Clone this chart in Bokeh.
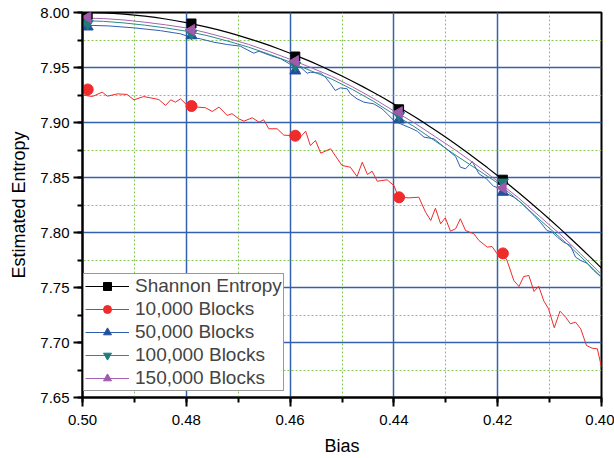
from bokeh.plotting import figure
from bokeh.models import Range1d, SingleIntervalTicker, NumeralTickFormatter, Legend, LegendItem
from bokeh.embed import file_html
from bokeh.resources import INLINE

# ---------------- data ----------------
shannon_x = [0.500, 0.498, 0.496, 0.494, 0.492, 0.490, 0.488, 0.486, 0.484, 0.482,
             0.480, 0.478, 0.476, 0.474, 0.472, 0.470, 0.468, 0.466, 0.464, 0.462,
             0.460, 0.458, 0.456, 0.454, 0.452, 0.450, 0.448, 0.446, 0.444, 0.442,
             0.440, 0.438, 0.436, 0.434, 0.432, 0.430, 0.428, 0.426, 0.424, 0.422,
             0.420, 0.418, 0.416, 0.414, 0.412, 0.410, 0.408, 0.406, 0.404, 0.402, 0.400]
shannon_y = [8.0000, 7.9999, 7.9996, 7.9992, 7.9985, 7.9977, 7.9967, 7.9955, 7.9941, 7.9925,
             7.9908, 7.9888, 7.9867, 7.9844, 7.9819, 7.9792, 7.9763, 7.9733, 7.9701, 7.9666,
             7.9630, 7.9592, 7.9553, 7.9511, 7.9467, 7.9422, 7.9375, 7.9326, 7.9275, 7.9222,
             7.9167, 7.9110, 7.9052, 7.8992, 7.8929, 7.8865, 7.8799, 7.8731, 7.8661, 7.8590,
             7.8516, 7.8441, 7.8363, 7.8284, 7.8203, 7.8120, 7.8035, 7.7948, 7.7859, 7.7769, 7.7676]

b10k_x = [0.5000, 0.4981, 0.4962, 0.4952, 0.4933, 0.4914, 0.4901, 0.4882, 0.4853, 0.4840,
          0.4830, 0.4821, 0.4811, 0.4798, 0.4779, 0.4763, 0.4750, 0.4737, 0.4721, 0.4712,
          0.4699, 0.4689, 0.4673, 0.4660, 0.4651, 0.4641, 0.4625, 0.4612, 0.4592, 0.4583,
          0.4570, 0.4561, 0.4551, 0.4541, 0.4522, 0.4500, 0.4484, 0.4471, 0.4461, 0.4451,
          0.4442, 0.4432, 0.4413, 0.4400, 0.4391, 0.4371, 0.4352, 0.4339, 0.4329, 0.4320,
          0.4310, 0.4301, 0.4291, 0.4281, 0.4272, 0.4262, 0.4246, 0.4236, 0.4220, 0.4211,
          0.4201, 0.4190, 0.4182, 0.4169, 0.4159, 0.4150, 0.4140, 0.4130, 0.4121, 0.4111,
          0.4102, 0.4091, 0.4080, 0.4069, 0.4060, 0.4050, 0.4040, 0.4029, 0.4018, 0.4008, 0.4000]
b10k_y = [7.9250, 7.9236, 7.9276, 7.9239, 7.9260, 7.9255, 7.9206, 7.9236, 7.9209, 7.9155,
          7.9206, 7.9185, 7.9215, 7.9155, 7.9140, 7.9134, 7.9100, 7.9140, 7.9064, 7.9080,
          7.9034, 7.9012, 7.9043, 7.9003, 7.9025, 7.8943, 7.8943, 7.8885, 7.8880, 7.8852,
          7.8921, 7.8791, 7.8836, 7.8721, 7.8761, 7.8609, 7.8594, 7.8509, 7.8639, 7.8527,
          7.8557, 7.8466, 7.8479, 7.8427, 7.8321, 7.8315, 7.8321, 7.8185, 7.8109, 7.8221,
          7.8079, 7.8134, 7.8012, 7.8034, 7.8125, 7.8018, 7.7988, 7.7927, 7.7867, 7.7873,
          7.7806, 7.7812, 7.7745, 7.7564, 7.7509, 7.7600, 7.7609, 7.7464, 7.7512, 7.7376,
          7.7306, 7.7134, 7.7285, 7.7230, 7.7170, 7.7185, 7.7124, 7.6973, 7.6948, 7.6943, 7.6776]

b50k_x = [0.5000, 0.4950, 0.4900, 0.4850, 0.4811, 0.4792, 0.4773, 0.4747, 0.4721, 0.4696,
          0.4670, 0.4660, 0.4638, 0.4618, 0.4601, 0.4580, 0.4567, 0.4561, 0.4541, 0.4532,
          0.4522, 0.4513, 0.4503, 0.4490, 0.4484, 0.4471, 0.4458, 0.4439, 0.4423, 0.4413,
          0.4400, 0.4387, 0.4368, 0.4355, 0.4342, 0.4323, 0.4304, 0.4281, 0.4272, 0.4262,
          0.4249, 0.4236, 0.4222, 0.4208, 0.4195, 0.4182, 0.4169, 0.4156, 0.4143, 0.4130,
          0.4118, 0.4105, 0.4095, 0.4085, 0.4073, 0.4060, 0.4050, 0.4040, 0.4028, 0.4015, 0.4002]
b50k_y = [7.9885, 7.9878, 7.9860, 7.9835, 7.9806, 7.9775, 7.9761, 7.9730, 7.9709, 7.9694,
          7.9630, 7.9648, 7.9609, 7.9579, 7.9533, 7.9503, 7.9448, 7.9457, 7.9448, 7.9412,
          7.9352, 7.9291, 7.9315, 7.9306, 7.9261, 7.9215, 7.9185, 7.9170, 7.9125, 7.9079,
          7.9018, 7.8988, 7.8950, 7.8921, 7.8867, 7.8852, 7.8780, 7.8690, 7.8594, 7.8579,
          7.8645, 7.8533, 7.8490, 7.8420, 7.8400, 7.8352, 7.8321, 7.8276, 7.8215, 7.8155,
          7.8094, 7.8018, 7.8003, 7.7958, 7.7912, 7.7882, 7.7776, 7.7745, 7.7721, 7.7655, 7.7600]

b100k_x = [0.500, 0.496, 0.492, 0.488, 0.484, 0.480, 0.476, 0.472, 0.468, 0.464,
           0.460, 0.456, 0.452, 0.448, 0.444, 0.440, 0.436, 0.432, 0.428, 0.424,
           0.420, 0.416, 0.412, 0.408, 0.404, 0.400]
b100k_y = [7.9925, 7.9920, 7.9905, 7.9885, 7.9860, 7.9830, 7.9790, 7.9740, 7.9685, 7.9620,
           7.9550, 7.9470, 7.9395, 7.9300, 7.9195, 7.9075, 7.8960, 7.8830, 7.8700, 7.8575,
           7.8450, 7.8290, 7.8120, 7.7955, 7.7780, 7.7595]

b150k_x = [0.500, 0.496, 0.492, 0.488, 0.484, 0.480, 0.476, 0.472, 0.468, 0.464,
           0.460, 0.456, 0.452, 0.448, 0.444, 0.440, 0.436, 0.432, 0.428, 0.424,
           0.420, 0.416, 0.412, 0.408, 0.404, 0.400]
b150k_y = [7.9950, 7.9945, 7.9932, 7.9912, 7.9888, 7.9860, 7.9815, 7.9765, 7.9710, 7.9645,
           7.9575, 7.9500, 7.9420, 7.9325, 7.9220, 7.9105, 7.8995, 7.8870, 7.8745, 7.8610,
           7.8465, 7.8315, 7.8150, 7.7985, 7.7805, 7.7620]

marker_x = [0.499, 0.479, 0.459, 0.439, 0.419]
shannon_my = [7.998, 7.990, 7.960, 7.912, 7.848]
b10k_my = [7.930, 7.915, 7.888, 7.832, 7.781]
b50k_my = [7.987, 7.979, 7.947, 7.9025, 7.8367]
b100k_my = [7.990, 7.981, 7.952, 7.9064, 7.8457]
b150k_my = [7.9957, 7.9842, 7.9558, 7.9094, 7.8406]

labels = ["Shannon Entropy", "10,000 Blocks", "50,000 Blocks", "100,000 Blocks", "150,000 Blocks"]
x_ticks_interval = 0.02
y_ticks_interval = 0.05

# ---------------- figure ----------------
FONT = "Liberation Sans"
p = figure(frame_width=519, frame_height=385, output_backend="svg", toolbar_location=None,
           x_range=Range1d(0.50, 0.40), y_range=Range1d(7.65, 8.00),
           min_border_left=82, min_border_right=13, min_border_top=12, min_border_bottom=58,
           background_fill_color="white", border_fill_color="white")

p.outline_line_color = "black"
p.outline_line_width = 2
p.outline_line_alpha = 1

p.xaxis.ticker = SingleIntervalTicker(interval=x_ticks_interval, num_minor_ticks=2)
p.yaxis.ticker = SingleIntervalTicker(interval=y_ticks_interval, num_minor_ticks=2)
p.axis.formatter = NumeralTickFormatter(format="0.00")

for ax in (p.xaxis, p.yaxis):
    ax.axis_line_width = 2
    ax.axis_line_color = "black"
    ax.major_tick_line_width = 2
    ax.minor_tick_line_width = 2
    ax.major_tick_out = 9
    ax.major_tick_in = 0
    ax.minor_tick_out = 5
    ax.minor_tick_in = 0
    ax.major_label_text_font = FONT
    ax.major_label_text_font_size = "15px"
    ax.major_label_text_color = "black"
    ax.axis_label_text_font = FONT
    ax.axis_label_text_font_size = "18px"
    ax.axis_label_text_font_style = "normal"
    ax.axis_label_text_color = "black"

p.xaxis.axis_label = "Bias"
p.yaxis.axis_label = "Estimated Entropy"
p.xaxis.major_label_standoff = 8
p.yaxis.major_label_standoff = 4
p.xaxis.axis_label_standoff = 8
p.yaxis.axis_label_standoff = 8

for g in (p.xgrid, p.ygrid):
    g.grid_line_color = "#3461ad"
    g.grid_line_width = 1.5
    g.minor_grid_line_color = "#86c65a"
    g.minor_grid_line_width = 1
    g.minor_grid_line_dash = "2 2"

RED = "#ef2b2b"
BLUE = "#2f5fb3"
BLUE_M = "#21509f"
TEAL = "#2a8a88"
TEAL_M = "#217b7a"
PURP = "#a662b2"
PURP_M = "#a05aab"

l0 = p.line(shannon_x, shannon_y, line_color="black", line_width=1.2)
l1 = p.line(b10k_x, b10k_y, line_color=RED, line_width=1)
l2 = p.line(b50k_x, b50k_y, line_color=BLUE, line_width=1)
l3 = p.line(b100k_x, b100k_y, line_color=TEAL, line_width=1)
l4 = p.line(b150k_x, b150k_y, line_color=PURP, line_width=1)

m0 = p.scatter(marker_x, shannon_my, marker="square", size=9, fill_color="black", line_color="black")
m1 = p.scatter(marker_x, b10k_my, marker="circle", size=11, fill_color=RED, line_color=RED)
m2 = p.scatter(marker_x, b50k_my, marker="triangle", size=11, fill_color=BLUE_M, line_color=BLUE_M)
m3 = p.scatter(marker_x, b100k_my, marker="inverted_triangle", size=11, fill_color=TEAL_M, line_color=TEAL_M)
m4 = p.scatter(marker_x, b150k_my, marker="triangle", angle=1.5708, size=11, fill_color=PURP_M, line_color=PURP_M)

legend = Legend(items=[
    LegendItem(label=labels[0], renderers=[l0, m0]),
    LegendItem(label=labels[1], renderers=[l1, m1]),
    LegendItem(label=labels[2], renderers=[l2, m2]),
    LegendItem(label=labels[3], renderers=[l3, m3]),
    LegendItem(label=labels[4], renderers=[l4, m4]),
], location=(1, 6), padding=1, spacing=1, glyph_width=44, glyph_height=20,
    label_height=20, label_standoff=6, label_text_font=FONT, label_text_font_size="19px",
    border_line_color="#333333", border_line_width=1.5, background_fill_color="white",
    background_fill_alpha=1, margin=0)
p.add_layout(legend)

open("out.html", "w").write(file_html(p, INLINE))
